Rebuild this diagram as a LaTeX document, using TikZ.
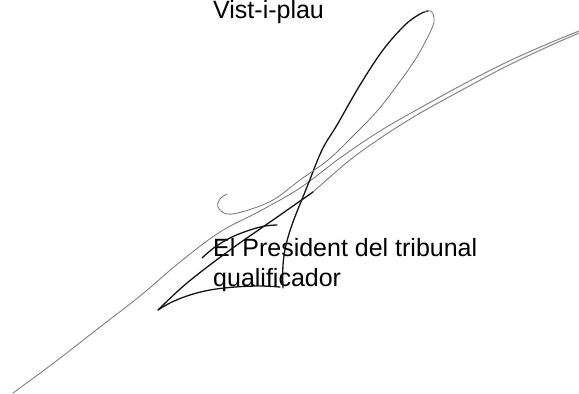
\documentclass[tikz,border=0pt]{standalone}
\usepackage{fontspec}
\setmainfont{Liberation Sans}
\begin{document}
\begin{tikzpicture}[x=1pt,y=-1pt,
  ink/.style={line width=1.3pt, draw=black!92, line cap=round, line join=round},
  faint/.style={line width=0.8pt, draw=black!55, line cap=round, line join=round},
  grain/.style={line width=1.1pt, draw=black!45, line cap=round, line join=round},
  lbl/.style={anchor=base west, inner sep=0pt, font=\fontsize{25}{30}\selectfont}]
\useasboundingbox (0,0) rectangle (579,394);
% texts
\node[lbl] (vist) at (213,18.5) {Vist-i-plau};
\node[lbl] (pres) at (213,256) {El President del tribunal};
\node[lbl] (qual) at (213,286) {qualificador};
% long double stroke from upper right
\draw[grain] plot[smooth, tension=0.6] coordinates {(579,31) (545,45) (505,63) (460,86) (420,108)};
\draw[faint] plot[smooth, tension=0.6] coordinates {(420,108) (380,131) (340,158) (300,188) (260,211) (220,232) (180,262) (140,296) (100,327) (55,362) (13,393)};
\draw[grain] plot[smooth, tension=0.6] coordinates {(579,33) (545,48) (505,67) (460,91) (420,113)};
\draw[faint] plot[smooth, tension=0.6] coordinates {(420,113) (385,135) (350,160) (313,192)};
\draw[ink] plot[smooth, tension=0.6] coordinates {(313,192) (273,220) (230,250) (187,283) (158,310)};
% bottom curve from tip
\draw[ink] plot[smooth, tension=0.6] coordinates {(158,310) (172,302) (190,295) (210,290) (235,287) (260,286) (280,287)};
% short upper curve
\draw[ink] plot[smooth, tension=0.6] coordinates {(202,258) (215,247) (232,237) (250,230) (265,226) (277,225)};
% loop: dark left side and vertical
\draw[ink] plot[smooth, tension=0.6] coordinates {(283,288) (283,265) (286,245) (293,222) (307,187) (322,150) (337,125) (360,85) (383,50) (405,25) (420,14) (428,11)};
% loop right side into hook
\draw[faint] plot[smooth, tension=0.6] coordinates {(424,12) (431,11) (434,18) (432,28) (418,55) (401,80) (378,110) (352,137) (328,160) (300,180) (273,200) (245,211) (227,214) (218,207) (220,199) (227,194)};
\end{tikzpicture}
\end{document}
